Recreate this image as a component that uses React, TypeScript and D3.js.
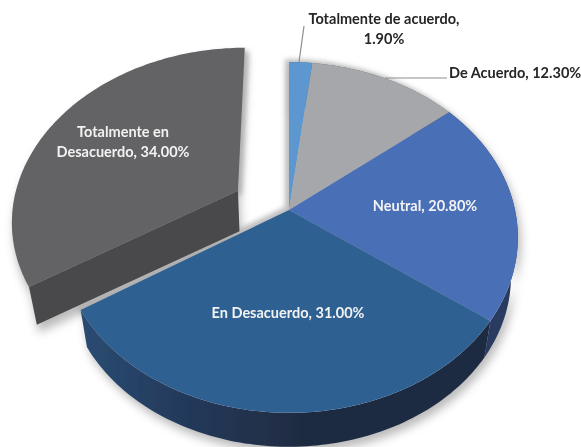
import React from "react";
import * as d3 from "d3";

const categories = ["Totalmente de acuerdo", "De Acuerdo", "Neutral", "En Desacuerdo", "Totalmente en Desacuerdo"];
const values = [1.9, 12.3, 20.8, 31.0, 34.0];
const topColors = ["#5b97cf", "#a5a7aa", "#4a6fb7", "#2e6092", "#636365"];
const sideColors = ["#3a5f85", "#66686a", "#2c3a62", "url(#enSide)", "#49494b"];
const explodedIndex = 4;

const W = 581, H = 447;
const cx = 289, cy = 210, Rx = 226, Ry = 171, k = 0.157;
const depth = 40, rimScale = 0.97;
const explodeU = -0.23, explodeV = -0.115;

type P = [number, number];
function project(u: number, v: number, bottom = false): P {
  const s = 1 / (1 - k * v);
  const r = bottom ? rimScale : 1;
  return [cx + Rx * u * s * r, cy + (bottom ? depth : 0) + Ry * v * s * r];
}
const pieGen = d3.pie<number>().sort(null).startAngle(0).endAngle(2 * Math.PI);
const arcs = pieGen(values);
const line = d3.line<P>().curve(d3.curveLinear);

function rim(a0: number, a1: number, ou: number, ov: number, bottom = false): P[] {
  const n = Math.max(4, Math.ceil((a1 - a0) / 0.02));
  return d3.range(n + 1).map((i) => {
    const a = a0 + ((a1 - a0) * i) / n;
    return project(ou + Math.sin(a), ov - Math.cos(a), bottom);
  });
}
function topPath(a0: number, a1: number, ou = 0, ov = 0) {
  return line([project(ou, ov), ...rim(a0, a1, ou, ov)]) + "Z";
}
function sidePath(a0: number, a1: number, ou = 0, ov = 0) {
  return line([...rim(a0, a1, ou, ov), ...rim(a0, a1, ou, ov, true).reverse()]) + "Z";
}
function cutPath(a: number, ou: number, ov: number) {
  const t = rim(a, a, ou, ov)[0];
  const b = rim(a, a, ou, ov, true)[0];
  return line([project(ou, ov), t, b, project(ou, ov, true)]) + "Z";
}

const labelStyle: React.CSSProperties = { fontFamily: "Lato, 'Open Sans', sans-serif", fontWeight: 700, fontSize: 14.5 };
const pct = (i: number) => values[i].toFixed(2) + "%";

export default function App() {
  const ex = arcs[explodedIndex];
  const mainArcs = arcs.filter((_, i) => i !== explodedIndex);
  const a0 = mainArcs[0].startAngle;
  const a1 = mainArcs[mainArcs.length - 1].endAngle;
  const outer = sidePath(a0, a1);
  const mainTop = topPath(a0, a1);
  return (
    <svg width={W} height={H} viewBox={`0 0 ${W} ${H}`} style={{ position: "absolute", left: 0, top: 0, display: "block", background: "#fff" }}>
      <defs>
        <filter id="soft" x="-20%" y="-20%" width="140%" height="140%"><feGaussianBlur stdDeviation="5" /></filter>
        <filter id="near" x="-20%" y="-20%" width="140%" height="140%"><feGaussianBlur stdDeviation="2.5" /></filter>
        <filter id="crisp"><feGaussianBlur stdDeviation="0.55" /></filter>
        <linearGradient id="enSide" gradientUnits="userSpaceOnUse" x1="80" x2="300" y1="0" y2="0">
          <stop offset="0" stopColor="#2a4c72" />
          <stop offset="0.45" stopColor="#243a5c" />
          <stop offset="1" stopColor="#1f2c42" />
        </linearGradient>
      </defs>
      <g filter="url(#crisp)">
        <g filter="url(#soft)" fill="#8c8c8c" opacity={0.6}>
          <path d={cutPath(ex.startAngle, explodeU, explodeV)} transform="translate(2,8)" />
          <path d={topPath(ex.startAngle, ex.endAngle, explodeU, explodeV)} transform="translate(2,8)" />
          <path d={outer} transform="translate(3,6)" />
        </g>
        <g filter="url(#near)" fill="#a8a8a8" opacity={0.75}>
          <path d={topPath(ex.startAngle, ex.endAngle, explodeU, explodeV)} transform="translate(4,3)" />
          <path d={mainTop} transform="translate(-4,-3)" />
        </g>

        <path d={cutPath(ex.startAngle, explodeU, explodeV)} fill={sideColors[explodedIndex]} />
        <path d={topPath(ex.startAngle, ex.endAngle, explodeU, explodeV)} fill={topColors[explodedIndex]} />

        {mainArcs.map((a) => (
          <path key={"s" + a.index} d={sidePath(a.startAngle, a.endAngle)} fill={sideColors[a.index]} />
        ))}
        {mainArcs.map((a) => (
          <path key={"t" + a.index} d={topPath(a.startAngle, a.endAngle)} fill={topColors[a.index]} />
        ))}

        <path d="M304,26 L299,62" stroke="#8d8d8d" strokeWidth={1.2} fill="none" />
        <path d="M385,78 L447,78" stroke="#8d8d8d" strokeWidth={1.2} fill="none" />

        <g style={labelStyle}>
          <text x={384} y={24} textAnchor="middle" fill="#262626">{categories[0]},</text>
          <text x={384} y={44} textAnchor="middle" fill="#262626">{pct(0)}</text>
          <text x={449} y={78} fill="#262626">{categories[1]}, {pct(1)}</text>
          <text x={425} y={211} textAnchor="middle" fill="#f2f2f2">{categories[2]}, {pct(2)}</text>
          <text x={288} y={318} textAnchor="middle" fill="#f2f2f2">{categories[3]}, {pct(3)}</text>
          <text x={123} y={137} textAnchor="middle" fill="#f2f2f2">Totalmente en</text>
          <text x={123} y={157} textAnchor="middle" fill="#f2f2f2">Desacuerdo, {pct(4)}</text>
        </g>
      </g>
    </svg>
  );
}
